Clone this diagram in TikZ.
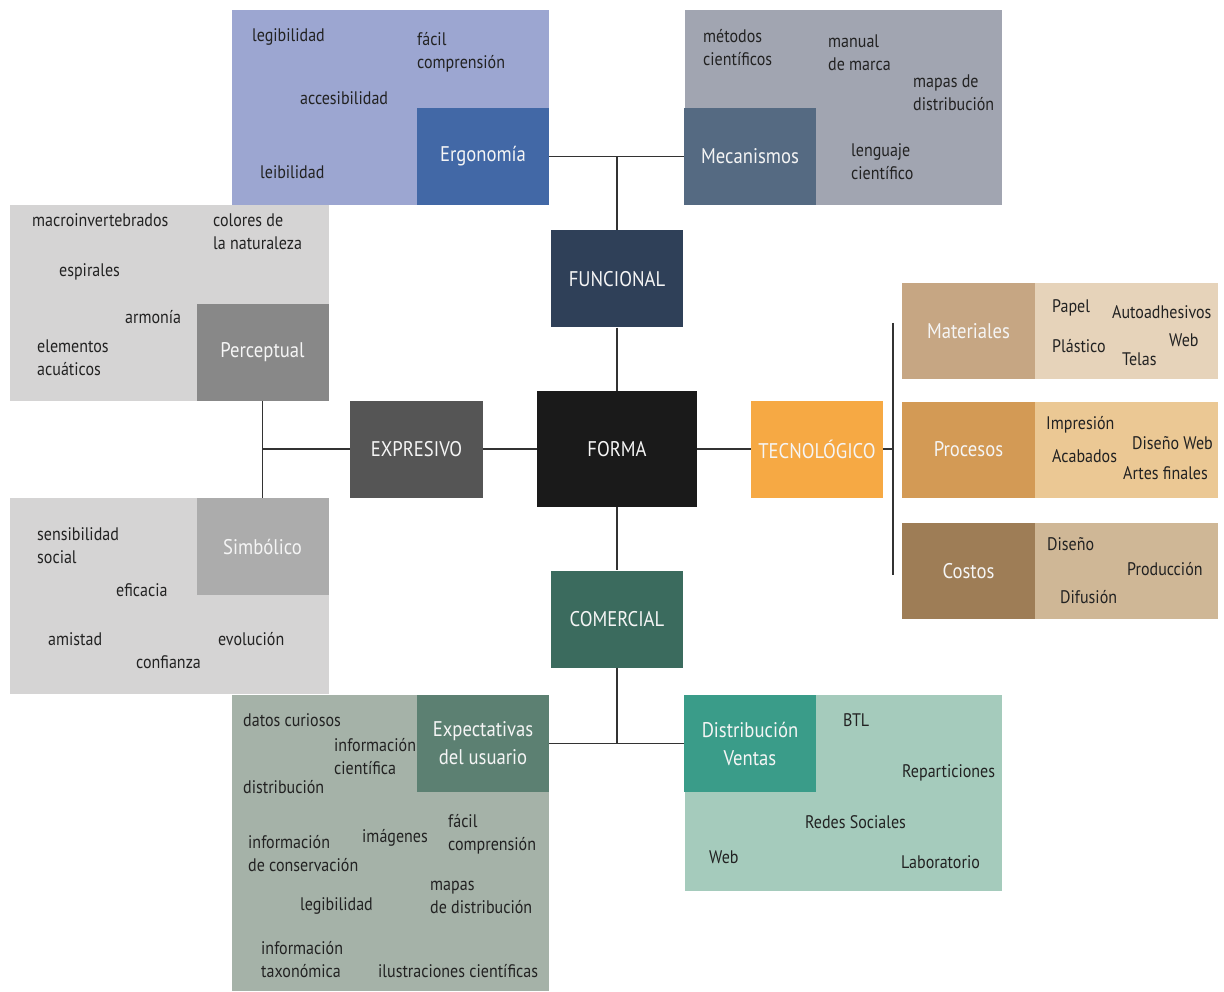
\documentclass[tikz,border=0pt]{standalone}
\usepackage{fontspec}
\setmainfont{PT Sans}[FakeStretch=0.88]
\definecolor{ergL}{HTML}{9CA6D1}
\definecolor{ergD}{HTML}{4268A6}
\definecolor{mecL}{HTML}{A1A5B1}
\definecolor{mecD}{HTML}{556A82}
\definecolor{funC}{HTML}{2F4058}
\definecolor{forC}{HTML}{1A1A1A}
\definecolor{expC}{HTML}{555555}
\definecolor{tecC}{HTML}{F6A944}
\definecolor{matD}{HTML}{C6A683}
\definecolor{matL}{HTML}{E6D3BA}
\definecolor{proD}{HTML}{D39A55}
\definecolor{proL}{HTML}{EBC894}
\definecolor{cosD}{HTML}{9E7D56}
\definecolor{cosL}{HTML}{CFB796}
\definecolor{perL}{HTML}{D5D4D4}
\definecolor{perD}{HTML}{888888}
\definecolor{simD}{HTML}{ACACAC}
\definecolor{comC}{HTML}{3B6B5E}
\definecolor{usuL}{HTML}{A5B2A8}
\definecolor{usuD}{HTML}{5C8072}
\definecolor{disL}{HTML}{A5CBBC}
\definecolor{disD}{HTML}{3A9C89}
\definecolor{txt}{HTML}{222222}
\definecolor{lnC}{HTML}{333333}
\tikzset{
  region/.style={draw=none, inner sep=0pt, minimum width=317pt, minimum height=195pt},
  catbox/.style={draw=none, inner sep=0pt, minimum width=132pt, minimum height=97pt, text=white!96!black, align=center, font=\fontsize{21.2}{28}\selectfont},
  word/.style={anchor=west, inner sep=0pt, text=txt, align=left, font=\fontsize{18.2}{23}\selectfont},
  conn/.style={draw=lnC, line width=1.6pt}
}
\begin{document}
\begin{tikzpicture}[x=1pt,y=-1pt]
\useasboundingbox (0,0) rectangle (1224,992);
\fill[white] (0,0) rectangle (1224,992);
% --- regions
\node[region, fill=ergL] (ergR) at (390.5,107.5) {};
\node[region, fill=mecL] (mecR) at (843,107.5) {};
\node[region, fill=perL, minimum width=319pt, minimum height=196pt] (perR) at (169.5,303) {};
\node[region, fill=perL, minimum width=319pt, minimum height=196pt] (simR) at (169.5,596) {};
\node[region, fill=usuL, minimum height=296pt] (usuR) at (390.5,843) {};
\node[region, fill=disL, minimum height=196pt] (disR) at (843,793) {};
\node[region, fill=matL, minimum width=316pt, minimum height=96pt] (matR) at (1060,331) {};
\node[region, fill=proL, minimum width=316pt, minimum height=96pt] (proR) at (1060,449.5) {};
\node[region, fill=cosL, minimum width=316pt, minimum height=96pt] (cosR) at (1060,571) {};
% --- category boxes
\node[catbox, fill=ergD] (erg) at (483,156.5) {Ergonomía};
\node[catbox, fill=mecD] (mec) at (750,156.5) {Mecanismos};
\node[catbox, fill=funC] (fun) at (617,279) {FUNCIONAL};
\node[catbox, fill=forC, minimum width=160pt, minimum height=116pt] (forma) at (617,449) {FORMA};
\node[catbox, fill=expC, minimum width=133pt] (expr) at (416.5,449) {EXPRESIVO};
\node[catbox, fill=tecC] (tec) at (817,449) {TECNOLÓGICO};
\node[catbox, fill=perD] (per) at (262.5,352.5) {Perceptual};
\node[catbox, fill=simD] (sim) at (262.5,546.5) {Simbólico};
\node[catbox, fill=comC] (com) at (617,619) {COMERCIAL};
\node[catbox, fill=usuD] (usu) at (483,743.5) {Expectativas\\del usuario};
\node[catbox, fill=disD] (dis) at (750,743.5) {Distribución\\Ventas};
\node[catbox, fill=matD, minimum width=133pt, minimum height=96pt] (mat) at (968.5,331) {Materiales};
\node[catbox, fill=proD, minimum width=133pt, minimum height=96pt] (pro) at (968.5,449.5) {Procesos};
\node[catbox, fill=cosD, minimum width=133pt, minimum height=96pt] (cos) at (968.5,571) {Costos};
% --- connectors
\coordinate (topJ) at (617,156.5);
\draw[conn] (erg.east) -- (mec.west);
\draw[conn] (topJ) -- (fun.north);
\draw[conn] (fun.south) -- (forma.north);
\draw[conn] (forma.west) -- (expr.east);
\draw[conn] (forma.east) -- (tec.west);
\draw[conn] (forma.south) -- (com.north);
\coordinate (botJ) at (617,743.5);
\draw[conn] (com.south) -- (botJ);
\draw[conn] (usu.east) -- (dis.west);
\draw[conn] (per.south) -- (sim.north);
\coordinate (leftJ) at (262.5,449);
\draw[conn] (leftJ) -- (expr.west);
\coordinate (barT) at (893,323);
\coordinate (barB) at (893,575);
\coordinate (barM) at (893,449);
\draw[conn] (barT) -- (barB);
\draw[conn] (tec.east) -- (barM);
% --- Ergonomia words
\node[word] (e1) at (252,37) {legibilidad};
\node[word] (e2) at (417,52.5) {fácil\\comprensión};
\node[word] (e3) at (300,98) {accesibilidad};
\node[word] (e4) at (260,172) {leibilidad};
% --- Mecanismos words
\node[word] (m1) at (703,47.5) {métodos\\científicos};
\node[word] (m2) at (828,52.5) {manual\\de marca};
\node[word] (m3) at (913,92.5) {mapas de\\distribución};
\node[word] (m4) at (851,161.5) {lenguaje\\científico};
% --- Perceptual words
\node[word] (p1) at (32,220) {macroinvertebrados};
\node[word] (p2) at (213,231.5) {colores de\\la naturaleza};
\node[word] (p3) at (59,272) {espirales};
\node[word] (p4) at (125,317) {armonía};
\node[word] (p5) at (37,357.5) {elementos\\acuáticos};
% --- Simbolico words
\node[word] (s1) at (37,545.5) {sensibilidad\\social};
\node[word] (s2) at (116,590) {eficacia};
\node[word] (s3) at (48,639) {amistad};
\node[word] (s4) at (218,639) {evolución};
\node[word] (s5) at (136,662) {confianza};
% --- Materiales words
\node[word] (t1) at (1052,308) {Papel};
\node[word] (t2) at (1112,312) {Autoadhesivos};
\node[word] (t3) at (1169,340) {Web};
\node[word] (t4) at (1052,346) {Plástico};
\node[word] (t5) at (1122,359) {Telas};
% --- Procesos words
\node[word] (r1) at (1046,425) {Impresión};
\node[word] (r2) at (1052,456) {Acabados};
\node[word] (r3) at (1132,443) {Diseño Web};
\node[word] (r4) at (1123,473) {Artes finales};
% --- Costos words
\node[word] (c1) at (1047,544) {Diseño};
\node[word] (c2) at (1127,569) {Producción};
\node[word] (c3) at (1060,597) {Difusión};
% --- Expectativas words
\node[word] (u1) at (243,720) {datos curiosos};
\node[word] (u2) at (334,756.5) {información\\científica};
\node[word] (u3) at (243,787) {distribución};
\node[word] (u4) at (248,853.5) {información\\de conservación};
\node[word] (u5) at (362,838) {imágenes};
\node[word] (u6) at (448,834) {fácil\\comprensión};
\node[word] (u7) at (300,906) {legibilidad};
\node[word] (u8) at (430,897.5) {mapas\\de distribución};
\node[word] (u9) at (261,959.5) {información\\taxonómica};
\node[word] (u10) at (378,971) {ilustraciones científicas};
% --- Distribucion words
\node[word] (d1) at (843,720) {BTL};
\node[word] (d2) at (902,773) {Reparticiones};
\node[word] (d3) at (805,822) {Redes Sociales};
\node[word] (d4) at (709,857) {Web};
\node[word] (d5) at (901,862) {Laboratorio};
\end{tikzpicture}
\end{document}
